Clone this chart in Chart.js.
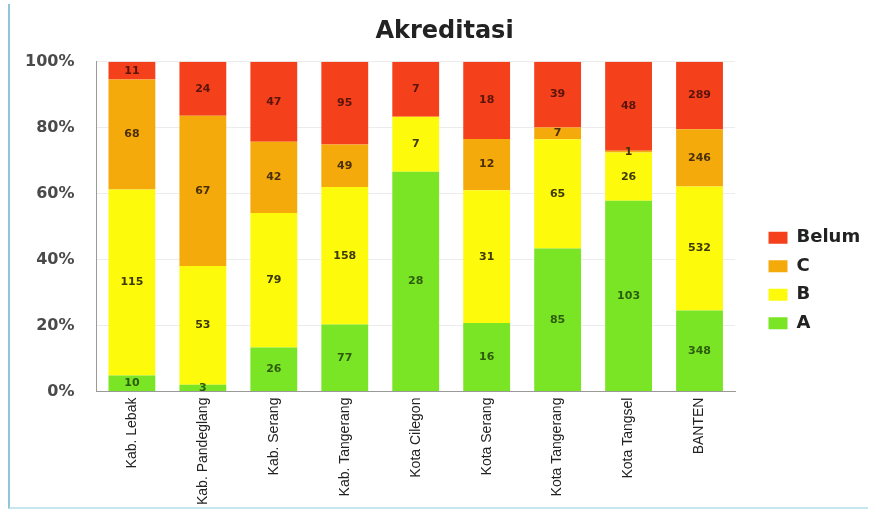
<!DOCTYPE html>
<html>
<head>
<meta charset="utf-8">
<script src="https://cdn.jsdelivr.net/npm/chart.js@4/dist/chart.umd.min.js"></script>
<style>
    body { margin: 0; background: #fff; }
    #wrap { position: relative; width: 870px; height: 511px; }
    #frame { position: absolute; left: 8px; top: 4px; right: 2px; bottom: 2px;
             border-left: 2px solid #8fc6dc; border-bottom: 2px solid #c6e6f0; }
</style>
</head>
<body>
<div id="wrap">
    <canvas id="akreditasi" width="870" height="511"></canvas>
    <div id="frame"></div>
</div>
<script>
"use strict"

const categories = ["Kab. Lebak", "Kab. Pandeglang", "Kab. Serang", "Kab. Tangerang",
    "Kota Cilegon", "Kota Serang", "Kota Tangerang", "Kota Tangsel", "BANTEN"];
const countA = [10, 3, 26, 77, 28, 16, 85, 103, 348];
const countB = [115, 53, 79, 158, 7, 31, 65, 26, 532];
const countC = [68, 67, 42, 49, 0, 12, 7, 1, 246];
const countBelum = [11, 24, 47, 95, 7, 18, 39, 48, 289];
const yTicks = [0, 20, 40, 60, 80, 100];

const totals = categories.map((c, i) => countA[i] + countB[i] + countC[i] + countBelum[i]);
const toPct = arr => arr.map((v, i) => v / totals[i] * 100);

// writes the raw count in the middle of every segment
const segmentLabels = {
    id: "segmentLabels",
    afterDatasetsDraw(chart) {
        const ctx = chart.ctx;
        ctx.save();
        ctx.font = "bold 11px 'DejaVu Sans'";
        ctx.textAlign = "center";
        ctx.textBaseline = "middle";
        chart.data.datasets.forEach((ds, di) => {
            ctx.fillStyle = ds.labelColor;
            chart.getDatasetMeta(di).data.forEach((bar, i) => {
                const n = ds.counts[i];
                if (!n) return;
                ctx.fillText(n, bar.x, (bar.y + bar.base) / 2);
            });
        });
        ctx.restore();
    }
};

// fixed legend width, items moved right of the plot and lower
const legendPlace = {
    id: "legendPlace",
    beforeLayout(chart) {
        const lg = chart.legend;
        if (lg && !lg._fixed) {
            const fit = lg.fit;
            lg.fit = function () { fit.call(this); this.width = 151; };
            lg._fixed = true;
        }
    },
    afterLayout(chart) {
        chart.legend.left += 23;
        chart.legend.right += 23;
        chart.legend.top += 25;
        chart.legend.bottom += 25;
    }
};

try {
    const akreditasiChart = new Chart(
        document.querySelector("#akreditasi"),
        {
            type: "bar",
            data: {
                labels: categories,
                datasets: [
                    { label: "A", data: toPct(countA), counts: countA, backgroundColor: "#7ae524", labelColor: "#2d5c0e" },
                    { label: "B", data: toPct(countB), counts: countB, backgroundColor: "#fdfa0c", labelColor: "#3d3a08" },
                    { label: "C", data: toPct(countC), counts: countC, backgroundColor: "#f5aa0c", labelColor: "#4a3008" },
                    { label: "Belum", data: toPct(countBelum), counts: countBelum, backgroundColor: "#f4411c", labelColor: "#5a140a" },
                ],
            },
            options: {
                responsive: false,
                animation: false,
                layout: { padding: { left: 3, right: -16, top: 0, bottom: 0 } },
                datasets: { bar: { categoryPercentage: 1, barPercentage: 0.66 } },
                plugins: {
                    title: {
                        display: true,
                        text: "Akreditasi",
                        color: "#222",
                        font: { family: "'DejaVu Sans'", size: 24, weight: "bold" },
                        padding: { top: 17, bottom: 16 }
                    },
                    legend: {
                        position: "right",
                        reverse: true,
                        labels: {
                            color: "#222",
                            boxWidth: 19,
                            boxHeight: 12,
                            padding: 10.5,
                            font: { family: "'DejaVu Sans'", size: 18, weight: "bold" }
                        }
                    },
                    tooltip: { enabled: false }
                },
                scales: {
                    x: {
                        stacked: true,
                        grid: { display: false, drawTicks: false },
                        border: { color: "#999" },
                        ticks: {
                            color: "#222",
                            padding: 6,
                            maxRotation: 90,
                            minRotation: 90,
                            font: { family: "'Liberation Sans Narrow', 'Liberation Sans'", size: 14 }
                        }
                    },
                    y: {
                        stacked: true,
                        min: 0,
                        max: 100,
                        afterBuildTicks: axis => { axis.ticks = yTicks.map(v => ({ value: v })); },
                        grid: { color: "#ececec", drawTicks: false },
                        border: { color: "#999" },
                        ticks: {
                            color: "#4a4a4a",
                            padding: 22,
                            font: { family: "'DejaVu Sans'", size: 16, weight: "bold" },
                            callback: v => v + "%"
                        }
                    }
                }
            },
            plugins: [segmentLabels, legendPlace]
        }
    );
} catch(error) {}
</script>
</body>
</html>
